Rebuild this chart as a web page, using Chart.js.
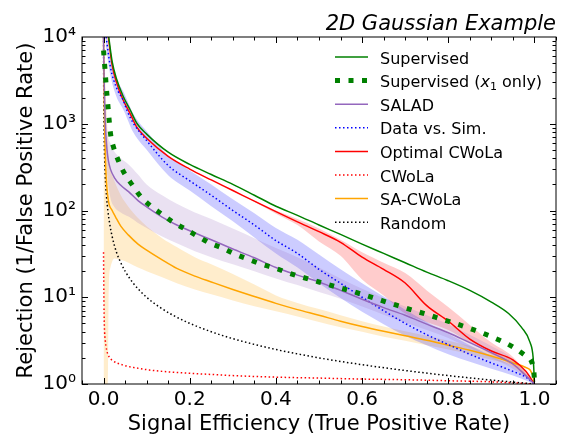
<!DOCTYPE html>
<html>
<head>
<meta charset="utf-8">
<title>2D Gaussian Example</title>
<script src="https://cdn.jsdelivr.net/npm/chart.js@4.4.0/dist/chart.umd.min.js"></script>
<style>
  html, body { margin: 0; padding: 0; background: #fff; }
  canvas { display: block; }
</style>
</head>
<body>
<canvas id="roc" width="561" height="438"></canvas>
<script>
const FONT = '"DejaVu Sans", sans-serif';

// ROC curves: [signal efficiency, rejection]
const supervised = [[0.012,10000],[0.02,5200],[0.03,3300],[0.045,2100],[0.062,1440],[0.078,1000],[0.1,760],[0.15,470],[0.2,340],[0.25,260],[0.3,200],[0.35,150],[0.4,112],[0.45,88],[0.5,68],[0.55,53],[0.6,41],[0.65,32],[0.7,25],[0.75,19.5],[0.8,15.5],[0.85,12],[0.9,8.8],[0.94,6.5],[0.97,4.5],[0.99,3],[0.997,2],[1.0,1.05]];
const supervisedX1 = [[0.0,7000],[0.003,4500],[0.006,2800],[0.01,1650],[0.016,780],[0.023,540],[0.034,380],[0.048,270],[0.067,196],[0.085,147],[0.11,112],[0.135,91],[0.162,73],[0.19,61],[0.217,51],[0.247,42],[0.275,37],[0.305,31.5],[0.335,27.5],[0.367,24],[0.4,21.5],[0.43,19],[0.5,15],[0.59,11.2],[0.68,8.1],[0.77,5.9],[0.86,4.2],[0.925,3.1],[0.95,2.67],[0.98,2.1],[0.998,1.5],[1.0,1.1]];
const salad = [[0.0,10000],[0.001,4000],[0.003,1500],[0.005,800],[0.008,500],[0.011,380],[0.016,300],[0.025,240],[0.04,195],[0.058,165],[0.08,130],[0.1,110],[0.136,84],[0.17,68],[0.212,55],[0.25,46],[0.3,36],[0.35,28.5],[0.4,22],[0.45,18],[0.5,15],[0.55,12],[0.6,9.5],[0.65,7.6],[0.7,6.2],[0.75,4.9],[0.8,3.9],[0.85,3],[0.9,2.3],[0.95,1.7],[0.98,1.25],[1.0,1.0]];
const dataVsSim = [[0.006,10000],[0.016,4500],[0.03,2600],[0.046,1850],[0.055,1400],[0.07,1000],[0.1,640],[0.15,330],[0.2,220],[0.25,150],[0.3,100],[0.35,68],[0.4,45],[0.45,32],[0.5,21],[0.55,14.5],[0.6,10],[0.65,7],[0.7,5],[0.75,3.7],[0.8,2.85],[0.85,2.2],[0.9,1.75],[0.95,1.4],[0.98,1.2],[1.0,1.0]];
const optimalCwola = [[0.011,10000],[0.02,4700],[0.03,3000],[0.045,1900],[0.062,1300],[0.078,900],[0.1,680],[0.15,420],[0.2,300],[0.25,225],[0.3,170],[0.35,128],[0.4,97],[0.45,74],[0.5,57],[0.55,43],[0.6,29],[0.65,21],[0.7,14.6],[0.75,8],[0.8,5.3],[0.85,3.3],[0.9,2.4],[0.95,1.9],[0.98,1.4],[1.0,1.0]];
const cwola = [[0.0,33],[0.0005,15],[0.001,8],[0.002,4.5],[0.004,3.2],[0.007,2.5],[0.013,2.05],[0.02,1.88],[0.044,1.66],[0.07,1.55],[0.106,1.45],[0.15,1.38],[0.2,1.33],[0.26,1.28],[0.3,1.25],[0.4,1.2],[0.5,1.17],[0.6,1.14],[0.7,1.12],[0.8,1.09],[0.9,1.06],[1.0,1.0]];
const saCwola = [[0.0,10000],[0.001,3000],[0.003,700],[0.006,250],[0.011,132],[0.02,100],[0.028,84],[0.04,66],[0.058,52],[0.08,41],[0.1,35],[0.136,27],[0.17,21.5],[0.212,17.5],[0.25,15],[0.3,12.3],[0.35,10.2],[0.4,8.5],[0.45,7.2],[0.5,6.2],[0.55,5.3],[0.6,4.6],[0.65,4.05],[0.7,3.6],[0.75,3.2],[0.8,2.8],[0.85,2.45],[0.9,2.1],[0.95,1.75],[0.98,1.55],[0.99,1.45],[0.997,1.2],[1.0,1.0]];
const random = [[0.0001,10000],[0.0002,5000],[0.0005,2000],[0.001,1000],[0.002,500],[0.004,250],[0.007,143],[0.01,100],[0.015,67],[0.02,50],[0.03,33],[0.04,25],[0.05,20],[0.07,14.3],[0.1,10],[0.13,7.7],[0.16,6.25],[0.2,5],[0.25,4],[0.3,3.33],[0.4,2.5],[0.5,2],[0.6,1.67],[0.7,1.43],[0.8,1.25],[0.9,1.11],[1.0,1.0]];

// spread over trainings: [signal efficiency, low, high]
const saladBand = [[0.003,800,3000],[0.008,280,900],[0.016,140,600],[0.025,110,480],[0.04,95,400],[0.058,85,340],[0.08,72,260],[0.1,63,200],[0.136,50,150],[0.17,42,120],[0.212,34,95],[0.25,29,80],[0.3,24,62],[0.35,20,48],[0.4,16.5,37],[0.45,13.8,29],[0.5,11.5,22],[0.55,9.6,16.5],[0.6,7.8,12.5],[0.65,6.3,9.8],[0.7,5.1,7.8],[0.75,4.2,6.2],[0.8,3.4,4.9],[0.85,2.6,3.7],[0.9,2.0,2.75],[0.95,1.5,1.95],[1.0,1,1]];
const dataVsSimBand = [[0.005,8000,12000],[0.016,3600,5600],[0.03,2050,3300],[0.046,1450,2350],[0.07,780,1280],[0.1,500,820],[0.15,255,430],[0.2,170,290],[0.25,112,200],[0.3,75,135],[0.35,49,93],[0.4,32,63],[0.45,22,46],[0.5,14.5,31],[0.55,9.8,21],[0.6,6.8,14.5],[0.65,4.9,10.2],[0.7,3.6,7.2],[0.75,2.8,5.2],[0.8,2.2,3.8],[0.85,1.8,2.8],[0.9,1.5,2.1],[0.95,1.25,1.6],[1.0,1,1]];
const optimalCwolaBand = [[0.35,125,130],[0.4,92,100],[0.45,68,80],[0.5,44,62],[0.55,30,46],[0.6,16,33],[0.65,10.5,25],[0.7,6.5,19],[0.75,5.2,12],[0.8,4.2,7.7],[0.85,3,4.8],[0.9,2.2,3],[0.95,1.6,2.05],[1.0,1,1]];
const saCwolaBand = [[0.0,1,10000],[0.004,1,3000],[0.0105,1,600],[0.012,12,400],[0.016,22,300],[0.025,28,220],[0.04,27,150],[0.058,25,110],[0.08,22,82],[0.1,20,66],[0.136,17,48],[0.17,14.5,38],[0.212,12.3,29],[0.25,10.8,24],[0.3,9.2,18.5],[0.35,7.9,14],[0.4,6.9,10.5],[0.45,6,8.6],[0.5,5.2,7.3],[0.55,4.5,6.2],[0.6,4,5.3],[0.65,3.5,4.6],[0.7,3.15,4.05],[0.75,2.8,3.6],[0.8,2.5,3.15],[0.85,2.2,2.75],[0.9,1.9,2.3],[0.95,1.6,1.9],[1.0,1,1]];

const xTicks = [0, 0.2, 0.4, 0.6, 0.8, 1.0];
const yTicks = [1, 10, 100, 1000, 10000];
const yTickLabels = ['10⁰', '10¹', '10²', '10³', '10⁴'];

const pts = rows => rows.map(r => ({ x: r[0], y: r[1] }));

function band(rows, color) {
  return [
    { data: rows.map(r => ({ x: r[0], y: r[1] })), borderColor: 'rgba(0,0,0,0)', borderWidth: 0, fill: false, order: 10 },
    { data: rows.map(r => ({ x: r[0], y: r[2] })), borderColor: 'rgba(0,0,0,0)', borderWidth: 0, fill: '-1', backgroundColor: color, order: 10 }
  ];
}

function curve(label, rows, color, width, dash) {
  return { label, data: pts(rows), borderColor: color, borderWidth: width, borderDash: dash || [], fill: false, order: 0, inLegend: true };
}

const DOTS = [1.5, 2.5];

const datasets = [
  ...band(saladBand, 'rgba(148,103,189,0.2)'),
  ...band(dataVsSimBand, 'rgba(0,0,255,0.2)'),
  ...band(optimalCwolaBand, 'rgba(255,0,0,0.2)'),
  ...band(saCwolaBand, 'rgba(255,165,0,0.2)'),
  curve('Supervised', supervised, '#008000', 1.5),
  curve('Supervised (x1 only)', supervisedX1, '#008000', 5, [5, 8.5]),
  curve('SALAD', salad, '#9467bd', 1.5),
  curve('Data vs. Sim.', dataVsSim, '#0000ff', 1.5, DOTS),
  curve('Optimal CWoLa', optimalCwola, '#ff0000', 1.5),
  curve('CWoLa', cwola, '#ff0000', 1.5, DOTS),
  curve('SA-CWoLa', saCwola, '#ffa500', 1.5),
  curve('Random', random, '#000000', 1.5, DOTS)
];

// frame, inward ticks on all four sides, axis titles, title and legend
const decorations = {
  id: 'decorations',
  afterDraw(chart) {
    const { ctx, chartArea: a, scales: { x, y } } = chart;
    ctx.save();
    ctx.strokeStyle = '#000';
    ctx.lineWidth = 1;
    ctx.setLineDash([]);
    ctx.strokeRect(a.left, a.top, a.right - a.left, a.bottom - a.top);

    const tick = (px, len, vertical) => {
      ctx.beginPath();
      if (vertical) {
        ctx.moveTo(px, a.bottom); ctx.lineTo(px, a.bottom - len);
        ctx.moveTo(px, a.top); ctx.lineTo(px, a.top + len);
      } else {
        ctx.moveTo(a.left, px); ctx.lineTo(a.left + len, px);
        ctx.moveTo(a.right, px); ctx.lineTo(a.right - len, px);
      }
      ctx.stroke();
    };
    for (let v = -0.05; v <= 1.05 + 1e-9; v += 0.05) {
      const major = Math.abs(v * 5 - Math.round(v * 5)) < 1e-6;
      tick(Math.round(x.getPixelForValue(v)) + 0.5, major ? 6 : 3.5, true);
    }
    for (let d = 1; d < 10000; d *= 10) {
      tick(Math.round(y.getPixelForValue(d)) + 0.5, 6, false);
      for (let m = 2; m <= 9; m++) tick(Math.round(y.getPixelForValue(m * d)) + 0.5, 3.5, false);
    }

    ctx.fillStyle = '#000';
    ctx.font = '21px ' + FONT;
    ctx.textAlign = 'center';
    ctx.textBaseline = 'alphabetic';
    ctx.fillText('Signal Efficiency (True Positive Rate)', (a.left + a.right) / 2, 430);
    ctx.save();
    ctx.translate(32, (a.top + a.bottom) / 2);
    ctx.rotate(-Math.PI / 2);
    ctx.fillText('Rejection (1/False Positive Rate)', 0, 0);
    ctx.restore();

    ctx.font = 'italic 21px ' + FONT;
    ctx.textAlign = 'right';
    ctx.fillText('2D Gaussian Example', a.right, 30);

    // legend
    ctx.textAlign = 'left';
    let row = 0;
    chart.data.datasets.forEach(ds => {
      if (!ds.inLegend) return;
      const ly = 57 + row * 23.6;
      ctx.beginPath();
      ctx.strokeStyle = ds.borderColor;
      ctx.lineWidth = ds.borderWidth;
      ctx.lineCap = 'butt';
      ctx.setLineDash(ds.borderDash);
      ctx.moveTo(335, ly);
      ctx.lineTo(368, ly);
      ctx.stroke();
      ctx.setLineDash([]);

      const by = ly + 6.5;
      let tx = 380;
      ctx.font = '16px ' + FONT;
      if (ds.label === 'Supervised (x1 only)') {
        const parts = [['Supervised (', '16px ', 0], ['x', 'italic 16px ', 0], ['1', '11px ', 3], [' only)', '16px ', 0]];
        parts.forEach(([t, f, dy]) => {
          ctx.font = f + FONT;
          ctx.fillText(t, tx, by + dy);
          tx += ctx.measureText(t).width;
        });
      } else {
        ctx.fillText(ds.label, tx, by);
      }
      row++;
    });
    ctx.restore();
  }
};

new Chart(document.getElementById('roc'), {
  type: 'line',
  data: { datasets },
  options: {
    responsive: false,
    animation: false,
    devicePixelRatio: 1,
    layout: { padding: { left: 0, right: 5, top: 37, bottom: 0 } },
    plugins: { legend: { display: false }, tooltip: { enabled: false } },
    elements: {
      point: { radius: 0, hoverRadius: 0 },
      line: { cubicInterpolationMode: 'monotone', borderCapStyle: 'butt' }
    },
    scales: {
      x: {
        type: 'linear', min: -0.05, max: 1.05,
        afterBuildTicks: s => { s.ticks = xTicks.map(v => ({ value: v })); },
        afterFit: s => { s.height = 54; },
        grid: { display: false, drawTicks: false },
        border: { display: false },
        ticks: { padding: 4, color: '#000', autoSkip: false, maxRotation: 0,
                 font: { family: FONT, size: 20 }, callback: v => v.toFixed(1) }
      },
      y: {
        type: 'logarithmic', min: 1, max: 10000,
        afterBuildTicks: s => { s.ticks = yTicks.map(v => ({ value: v })); },
        afterFit: s => { s.width = 82; },
        grid: { display: false, drawTicks: false },
        border: { display: false },
        ticks: { padding: 6, color: '#000', autoSkip: false,
                 font: { family: FONT, size: 20 }, callback: (v, i) => yTickLabels[i] }
      }
    }
  },
  plugins: [decorations]
});
</script>
</body>
</html>
